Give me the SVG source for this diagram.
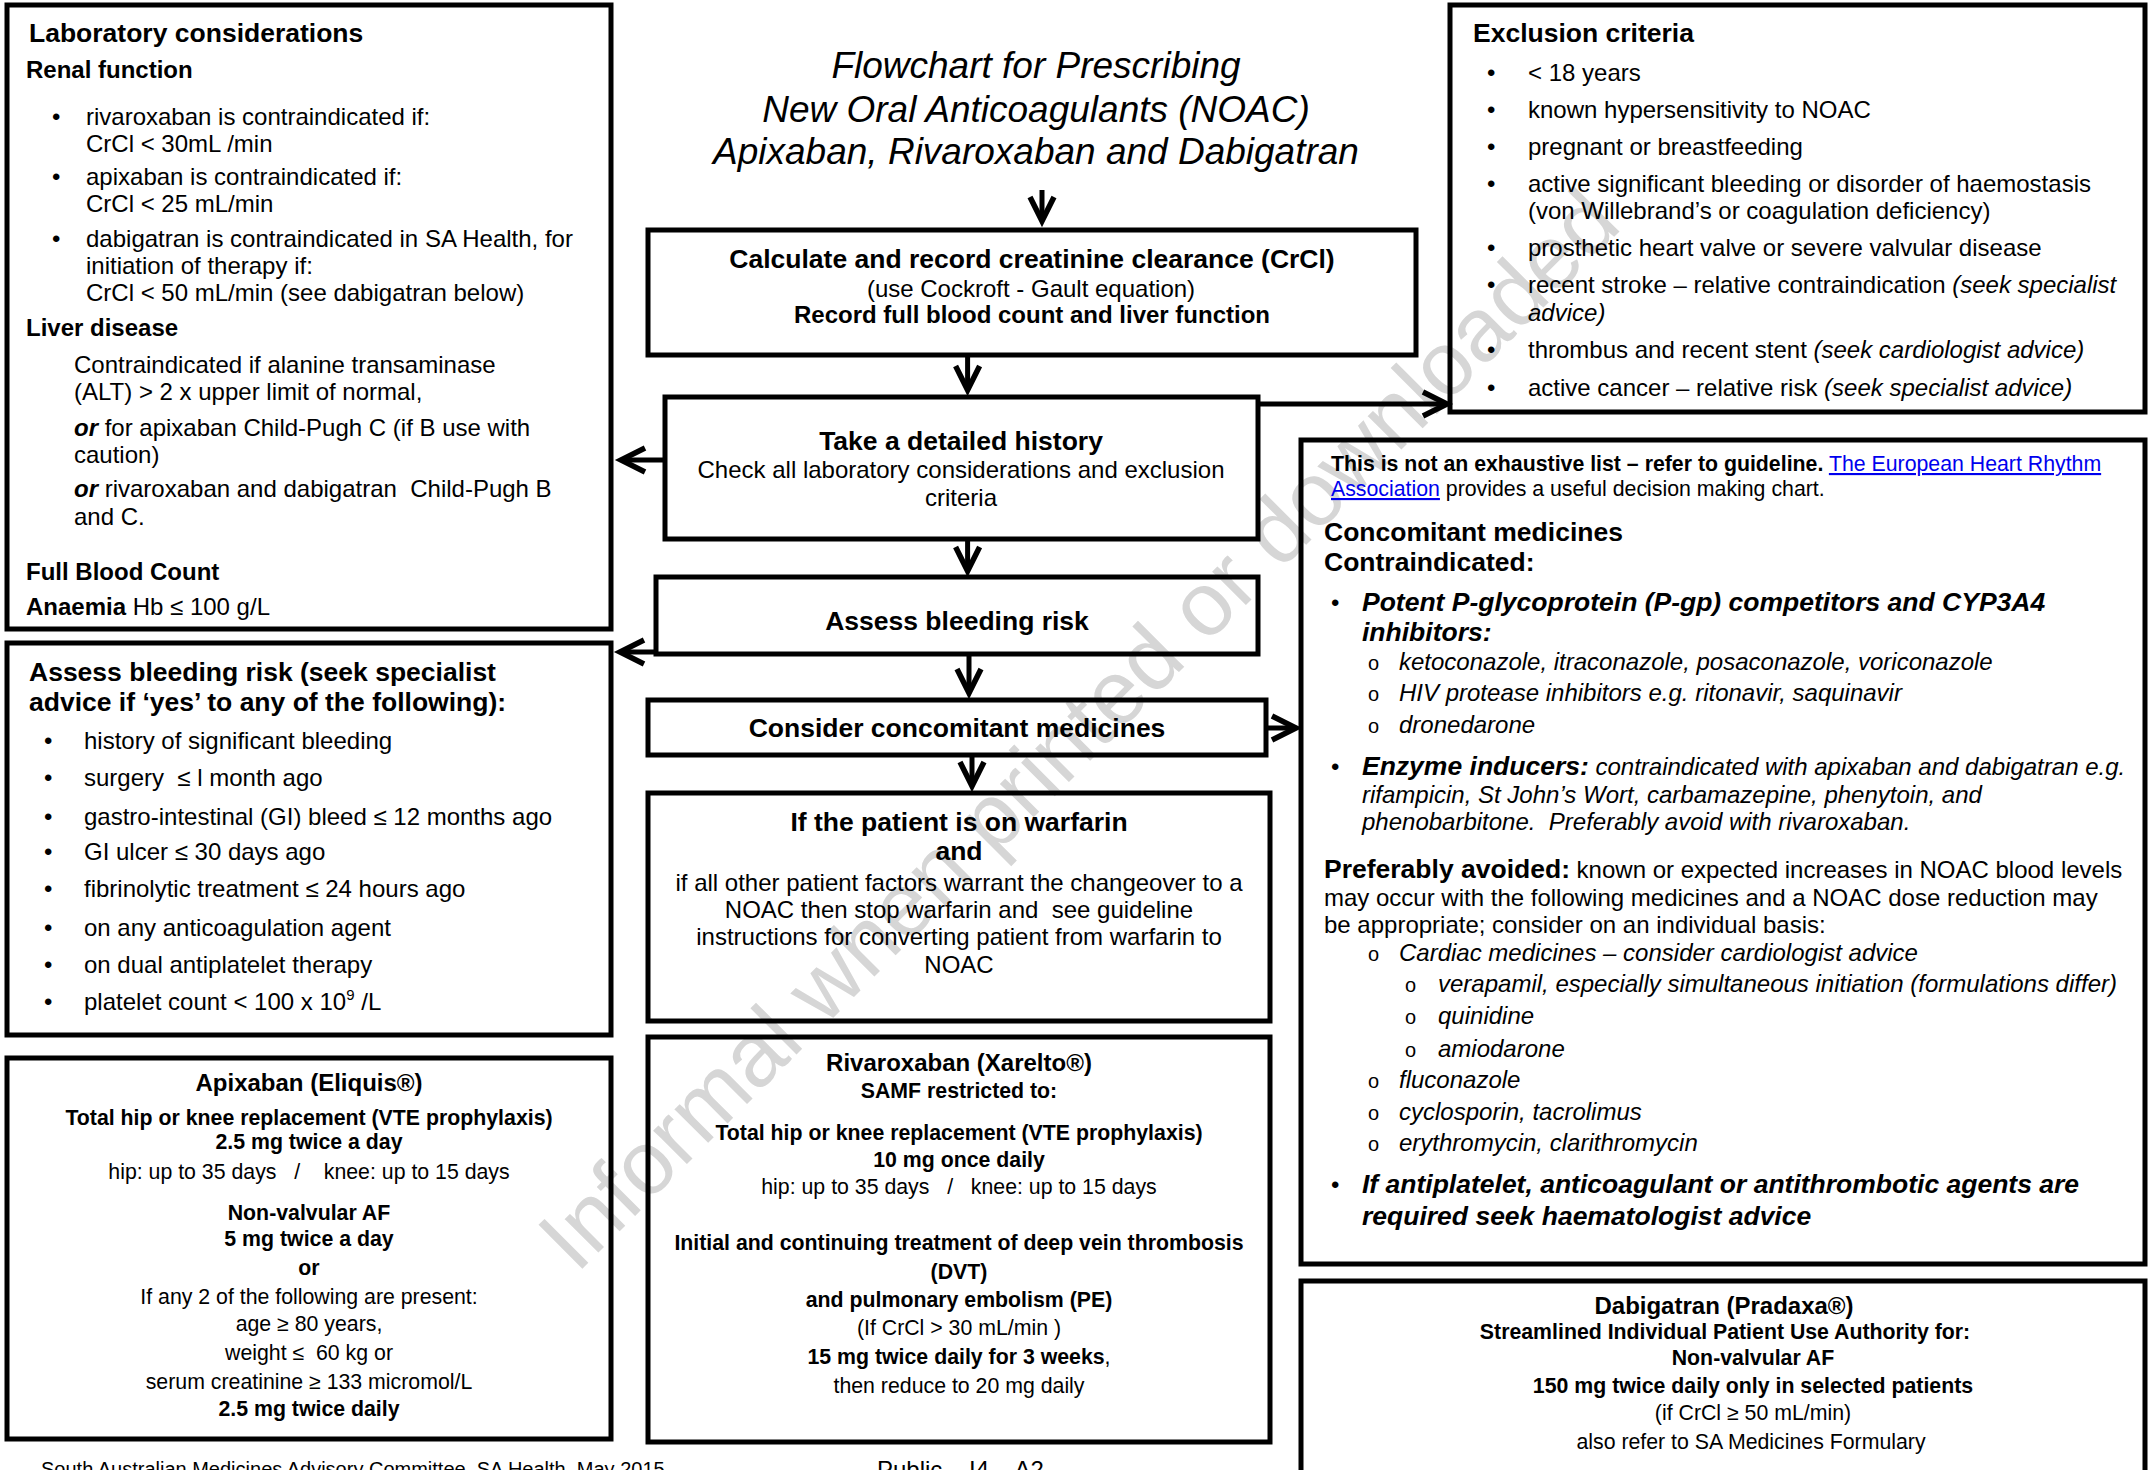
<svg xmlns="http://www.w3.org/2000/svg" width="2149" height="1470" viewBox="0 0 2149 1470">
<style>
text{font-family:"Liberation Sans",Arial,sans-serif;font-size:24px;fill:#000}
.h{font-size:26.5px;font-weight:bold}
.b{font-weight:bold}
.i{font-style:italic}
.bi{font-weight:bold;font-style:italic}
.s{font-size:21.3px}
.c{text-anchor:middle}
.t{font-size:37px;font-style:italic}
.o{font-size:20px}
.f{font-size:20px}
.lk{fill:#0000ee;text-decoration:underline}
.box{fill:none;stroke:#000;stroke-width:5}
.conn{fill:none;stroke:#000;stroke-width:5;marker-end:url(#ah)}
.wm{font-size:90px;fill:#d6d6d6;text-anchor:middle}
</style>
<defs>
<marker id="ah" markerUnits="userSpaceOnUse" viewBox="-4 -18 40 36" refX="26" refY="0" markerWidth="40" markerHeight="36" orient="auto" overflow="visible">
<path d="M2,-12 L26,0 L2,12" fill="none" stroke="#000" stroke-width="5.5" stroke-linejoin="miter"/>
</marker>
</defs>
<rect width="2149" height="1470" fill="#fff"/>
<text class="wm" x="1100" y="751" transform="rotate(-45 1100 751)">Informal when printed or downloaded</text>

<g id="title">
<text class="t c" x="1036" y="78">Flowchart for Prescribing</text>
<text class="t c" x="1036" y="122">New Oral Anticoagulants (NOAC)</text>
<text class="t c" x="1036" y="164">Apixaban, Rivaroxaban and Dabigatran</text>
</g>

<g id="lab">
<rect class="box" x="7" y="5" width="604" height="624"/>
<text class="h" x="29" y="42">Laboratory considerations</text>
<text class="b" x="26" y="78">Renal function</text>
<text x="52" y="125">•</text><text x="86" y="125">rivaroxaban is contraindicated if:</text>
<text x="86" y="152">CrCl &lt; 30mL /min</text>
<text x="52" y="185">•</text><text x="86" y="185">apixaban is contraindicated if:</text>
<text x="86" y="212">CrCl &lt; 25 mL/min</text>
<text x="52" y="247">•</text><text x="86" y="247">dabigatran is contraindicated in SA Health, for</text>
<text x="86" y="274">initiation of therapy if:</text>
<text x="86" y="301">CrCl &lt; 50 mL/min (see dabigatran below)</text>
<text class="b" x="26" y="336">Liver disease</text>
<text x="74" y="373">Contraindicated if alanine transaminase</text>
<text x="74" y="400">(ALT) &gt; 2 x upper limit of normal,</text>
<text x="74" y="436"><tspan class="bi">or</tspan> for apixaban Child-Pugh C (if B use with</text>
<text x="74" y="463">caution)</text>
<text x="74" y="497"><tspan class="bi">or</tspan> rivaroxaban and dabigatran &#160;Child-Pugh B</text>
<text x="74" y="525">and C.</text>
<text class="b" x="26" y="580">Full Blood Count</text>
<text x="26" y="615"><tspan class="b">Anaemia</tspan> Hb ≤ 100 g/L</text>
</g>

<g id="bleeding">
<rect class="box" x="7" y="643" width="604" height="392"/>
<text class="h" x="29" y="681">Assess bleeding risk (seek specialist</text>
<text class="h" x="29" y="711">advice if ‘yes’ to any of the following):</text>
<text x="44" y="749">•</text><text x="84" y="749">history of significant bleeding</text>
<text x="44" y="786">•</text><text x="84" y="786">surgery &#160;≤ l month ago</text>
<text x="44" y="825">•</text><text x="84" y="825">gastro-intestinal (GI) bleed ≤ 12 months ago</text>
<text x="44" y="860">•</text><text x="84" y="860">GI ulcer ≤ 30 days ago</text>
<text x="44" y="897">•</text><text x="84" y="897">fibrinolytic treatment ≤ 24 hours ago</text>
<text x="44" y="936">•</text><text x="84" y="936">on any anticoagulation agent</text>
<text x="44" y="973">•</text><text x="84" y="973">on dual antiplatelet therapy</text>
<text x="44" y="1010">•</text><text x="84" y="1010">platelet count &lt; 100 x 10<tspan font-size="15" dy="-10">9</tspan><tspan dy="10"> /L</tspan></text>
</g>

<g id="apixaban">
<rect class="box" x="7" y="1058" width="604" height="381"/>
<text class="b c" x="309" y="1091">Apixaban (Eliquis®)</text>
<text class="b s c" x="309" y="1125">Total hip or knee replacement (VTE prophylaxis)</text>
<text class="b s c" x="309" y="1149">2.5 mg twice a day</text>
<text class="s c" x="309" y="1179">hip: up to 35 days &#160; / &#160; &#160;knee: up to 15 days</text>
<text class="b s c" x="309" y="1220">Non-valvular AF</text>
<text class="b s c" x="309" y="1246">5 mg twice a day</text>
<text class="b s c" x="309" y="1275">or</text>
<text class="s c" x="309" y="1304">If any 2 of the following are present:</text>
<text class="s c" x="309" y="1331">age ≥ 80 years,</text>
<text class="s c" x="309" y="1360">weight ≤ &#160;60 kg or</text>
<text class="s c" x="309" y="1389">serum creatinine ≥ 133 micromol/L</text>
<text class="b s c" x="309" y="1416">2.5 mg twice daily</text>
</g>

<g id="calc">
<rect class="box" x="648" y="230" width="768" height="125"/>
<text class="h c" x="1032" y="268">Calculate and record creatinine clearance (CrCl)</text>
<text class="c" x="1031" y="297">(use Cockroft - Gault equation)</text>
<text class="b c" x="1032" y="323">Record full blood count and liver function</text>
</g>

<g id="history">
<rect class="box" x="665" y="397" width="593" height="142"/>
<text class="h c" x="961" y="450">Take a detailed history</text>
<text class="c" x="961" y="478">Check all laboratory considerations and exclusion</text>
<text class="c" x="961" y="506">criteria</text>
</g>

<g id="assess">
<rect class="box" x="656" y="577" width="602" height="77"/>
<text class="h c" x="957" y="630">Assess bleeding risk</text>
</g>

<g id="consider">
<rect class="box" x="648" y="700" width="618" height="55"/>
<text class="h c" x="957" y="737">Consider concomitant medicines</text>
</g>

<g id="warfarin">
<rect class="box" x="648" y="793" width="622" height="228"/>
<text class="h c" x="959" y="831">If the patient is on warfarin</text>
<text class="h c" x="959" y="860">and</text>
<text class="c" x="959" y="891">if all other patient factors warrant the changeover to a</text>
<text class="c" x="959" y="918">NOAC then stop warfarin and &#160;see guideline</text>
<text class="c" x="959" y="945">instructions for converting patient from warfarin to</text>
<text class="c" x="959" y="973">NOAC</text>
</g>

<g id="rivaroxaban">
<rect class="box" x="648" y="1037" width="622" height="405"/>
<text class="b c" x="959" y="1071">Rivaroxaban (Xarelto®)</text>
<text class="b s c" x="959" y="1098">SAMF restricted to:</text>
<text class="b s c" x="959" y="1140">Total hip or knee replacement (VTE prophylaxis)</text>
<text class="b s c" x="959" y="1167">10 mg once daily</text>
<text class="s c" x="959" y="1194">hip: up to 35 days &#160; / &#160; knee: up to 15 days</text>
<text class="b s c" x="959" y="1250">Initial and continuing treatment of deep vein thrombosis</text>
<text class="b s c" x="959" y="1279">(DVT)</text>
<text class="b s c" x="959" y="1307">and pulmonary embolism (PE)</text>
<text class="s c" x="959" y="1335">(If CrCl &gt; 30 mL/min )</text>
<text class="s c" x="959" y="1364"><tspan class="b">15 mg twice daily for 3 weeks</tspan>,</text>
<text class="s c" x="959" y="1393">then reduce to 20 mg daily</text>
</g>

<g id="exclusion">
<rect class="box" x="1450" y="5" width="695" height="407"/>
<text class="h" x="1473" y="42">Exclusion criteria</text>
<text x="1487" y="81">•</text><text x="1528" y="81">&lt; 18 years</text>
<text x="1487" y="118">•</text><text x="1528" y="118">known hypersensitivity to NOAC</text>
<text x="1487" y="155">•</text><text x="1528" y="155">pregnant or breastfeeding</text>
<text x="1487" y="192">•</text><text x="1528" y="192">active significant bleeding or disorder of haemostasis</text>
<text x="1528" y="219">(von Willebrand’s or coagulation deficiency)</text>
<text x="1487" y="256">•</text><text x="1528" y="256">prosthetic heart valve or severe valvular disease</text>
<text x="1487" y="293">•</text><text x="1528" y="293">recent stroke – relative contraindication <tspan class="i">(seek specialist</tspan></text>
<text class="i" x="1528" y="321">advice)</text>
<text x="1487" y="358">•</text><text x="1528" y="358">thrombus and recent stent <tspan class="i">(seek cardiologist advice)</tspan></text>
<text x="1487" y="396">•</text><text x="1528" y="396">active cancer – relative risk <tspan class="i">(seek specialist advice)</tspan></text>
</g>

<g id="concomitant">
<rect class="box" x="1301" y="440" width="844" height="824"/>
<text class="s" x="1331" y="471"><tspan class="b">This is not an exhaustive list – refer to guideline.</tspan> <tspan class="lk">The European Heart Rhythm</tspan></text>
<text class="s" x="1331" y="496"><tspan class="lk">Association</tspan> provides a useful decision making chart.</text>
<text class="h" x="1324" y="541">Concomitant medicines</text>
<text class="h" x="1324" y="571">Contraindicated:</text>
<text x="1331" y="611">•</text><text class="h i" x="1362" y="611">Potent P-glycoprotein (P-gp) competitors and CYP3A4</text>
<text class="h i" x="1362" y="641">inhibitors:</text>
<text class="o" x="1368" y="670">o</text><text class="i" x="1399" y="670">ketoconazole, itraconazole, posaconazole, voriconazole</text>
<text class="o" x="1368" y="701">o</text><text class="i" x="1399" y="701">HIV protease inhibitors e.g. ritonavir, saquinavir</text>
<text class="o" x="1368" y="733">o</text><text class="i" x="1399" y="733">dronedarone</text>
<text x="1331" y="775">•</text><text class="i" x="1362" y="775"><tspan class="h">Enzyme inducers:</tspan> contraindicated with apixaban and dabigatran e.g.</text>
<text class="i" x="1362" y="803">rifampicin, St John’s Wort, carbamazepine, phenytoin, and</text>
<text class="i" x="1362" y="830">phenobarbitone. &#160;Preferably avoid with rivaroxaban.</text>
<text x="1324" y="878"><tspan class="h">Preferably avoided:</tspan> known or expected increases in NOAC blood levels</text>
<text x="1324" y="906">may occur with the following medicines and a NOAC dose reduction may</text>
<text x="1324" y="933">be appropriate; consider on an individual basis:</text>
<text class="o" x="1368" y="961">o</text><text class="i" x="1399" y="961">Cardiac medicines – consider cardiologist advice</text>
<text class="o" x="1405" y="992">o</text><text class="i" x="1438" y="992">verapamil, especially simultaneous initiation (formulations differ)</text>
<text class="o" x="1405" y="1024">o</text><text class="i" x="1438" y="1024">quinidine</text>
<text class="o" x="1405" y="1057">o</text><text class="i" x="1438" y="1057">amiodarone</text>
<text class="o" x="1368" y="1088">o</text><text class="i" x="1399" y="1088">fluconazole</text>
<text class="o" x="1368" y="1120">o</text><text class="i" x="1399" y="1120">cyclosporin, tacrolimus</text>
<text class="o" x="1368" y="1151">o</text><text class="i" x="1399" y="1151">erythromycin, clarithromycin</text>
<text x="1331" y="1193">•</text><text class="h i" x="1362" y="1193">If antiplatelet, anticoagulant or antithrombotic agents are</text>
<text class="h i" x="1362" y="1225">required seek haematologist advice</text>
</g>

<g id="dabigatran">
<rect class="box" x="1301" y="1281" width="844" height="220"/>
<text class="b c" x="1724" y="1314">Dabigatran (Pradaxa®)</text>
<text class="b s c" x="1725" y="1339">Streamlined Individual Patient Use Authority for:</text>
<text class="b s c" x="1753" y="1365">Non-valvular AF</text>
<text class="b s c" x="1753" y="1393">150 mg twice daily only in selected patients</text>
<text class="s c" x="1753" y="1420">(if CrCl ≥ 50 mL/min)</text>
<text class="s c" x="1751" y="1449">also refer to SA Medicines Formulary</text>
</g>

<g id="footer">
<text class="f" x="41" y="1476">South Australian Medicines Advisory Committee, SA Health, May 2015</text>
<text x="877" y="1478">Public – I4 – A2</text>
</g>

<g id="connectors">
<path class="conn" d="M1042,190 V221"/>
<path class="conn" d="M967.6,355 V390"/>
<path class="conn" d="M665,460 H621"/>
<path class="conn" d="M1258,404 H1447"/>
<path class="conn" d="M967.6,539 V571"/>
<path class="conn" d="M656,652 H620"/>
<path class="conn" d="M969,654 V693"/>
<path class="conn" d="M1266,728 H1296"/>
<path class="conn" d="M972,755 V786"/>
</g>
</svg>
